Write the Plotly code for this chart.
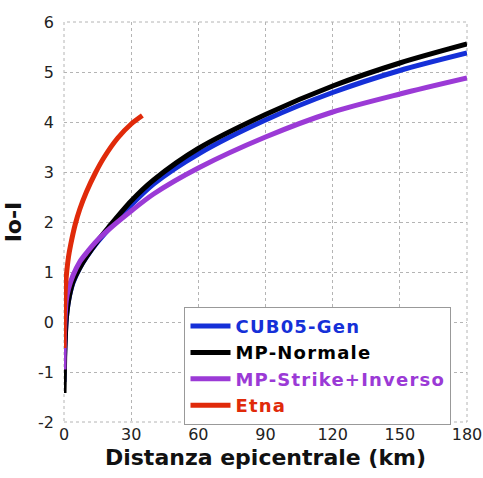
import plotly.graph_objects as go

# Distances (km) and Io-I values
dist_cub = [0, 0.3, 1, 2, 4, 7, 10, 15, 20, 30, 40, 60, 90, 120, 150, 180]
io_cub = [-1.2, -0.6, 0.05, 0.42, 0.78, 1.08, 1.3, 1.6, 1.86, 2.34, 2.76, 3.36, 4.04, 4.59, 5.03, 5.38]

dist_norm = [0, 0.3, 0.6, 1, 2, 4, 7, 10, 15, 20, 30, 40, 60, 90, 120, 150, 180]
io_norm = [-1.42, -0.7, -0.3, 0.05, 0.42, 0.8, 1.08, 1.3, 1.62, 1.9, 2.42, 2.84, 3.47, 4.15, 4.72, 5.18, 5.56]

dist_strike = [0, 0.2, 0.5, 1, 2, 4, 7, 10, 15, 20, 30, 40, 60, 90, 120, 150, 180]
io_strike = [-0.95, -0.3, 0.1, 0.42, 0.66, 0.93, 1.2, 1.38, 1.64, 1.85, 2.22, 2.56, 3.08, 3.7, 4.2, 4.56, 4.88]

dist_etna = [0, 0.15, 0.4, 1, 2, 3, 5, 7, 10, 14, 18, 24, 30, 35]
io_etna = [-0.52, 0.1, 0.5, 0.9, 1.3, 1.55, 1.95, 2.25, 2.6, 2.98, 3.3, 3.68, 3.96, 4.13]

names = ["CUB05-Gen", "MP-Normale", "MP-Strike+Inverso", "Etna"]
colors = ["#1530d8", "#000000", "#9b3ad6", "#e02a0a"]
xs = [dist_cub, dist_norm, dist_strike, dist_etna]
ys = [io_cub, io_norm, io_strike, io_etna]

x_ticks = [0, 30, 60, 90, 120, 150, 180]
y_ticks = [-2, -1, 0, 1, 2, 3, 4, 5, 6]

fig = go.Figure()
for n, c, x, y in zip(names, colors, xs, ys):
    fig.add_trace(go.Scatter(
        x=x, y=y, mode="lines",
        name=f"<b><span style='color:{c};letter-spacing:1.2px'>{n}</span></b>",
        line=dict(color=c, width=5, shape="spline", smoothing=0.8),
    ))

grid = dict(showgrid=True, gridcolor="#b4b4b4", gridwidth=1, griddash="dot",
            zeroline=False, showline=False, automargin=False,
            tickfont=dict(family="DejaVu Sans", size=16, color="#222"))

fig.update_layout(
    width=483, height=478,
    margin=dict(l=64, r=16, t=22, b=56),
    paper_bgcolor="white", plot_bgcolor="white",
    font=dict(family="DejaVu Sans"),
    xaxis=dict(range=[0, 180], tickvals=x_ticks, ticktext=[str(v) for v in x_ticks],
               title=dict(text="<b>Distanza epicentrale (km)</b>", font=dict(size=22, color="#111"), standoff=6),
               ticklabelstandoff=1, **grid),
    yaxis=dict(range=[-2, 6], tickvals=y_ticks, ticktext=[str(v) for v in y_ticks],
               title=dict(text="<b>Io-I</b>", font=dict(size=22, color="#111"), standoff=10),
               ticklabelstandoff=9, **grid),
    legend=dict(x=0.299, y=0.288, xanchor="left", yanchor="top",
                bgcolor="white", bordercolor="#999", borderwidth=1,
                font=dict(size=18, family="DejaVu Sans"), tracegroupgap=0,
                itemwidth=40),
    showlegend=True,
)
fig.add_shape(type="rect", xref="paper", yref="paper", x0=0, y0=0, x1=1, y1=1,
              line=dict(color="#b4b4b4", width=1, dash="dot"), layer="below")

fig.write_html("out.html")
